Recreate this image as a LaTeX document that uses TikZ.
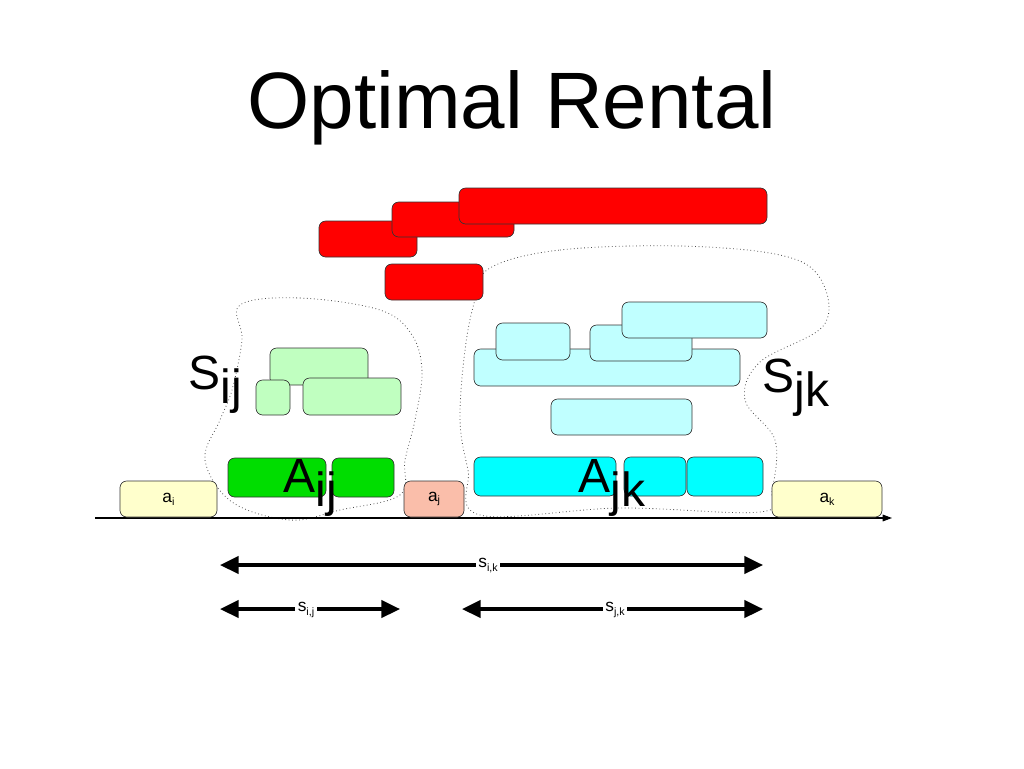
\documentclass[tikz,border=0pt]{standalone}
\usepackage{fontspec}
\setmainfont{Liberation Sans}
\usetikzlibrary{arrows.meta}
\definecolor{cyn}{RGB}{0,255,255}
\definecolor{lcyn}{RGB}{192,255,255}
\definecolor{lgrn}{RGB}{192,255,192}
\definecolor{grn}{RGB}{0,221,0}
\definecolor{ylw}{RGB}{255,255,204}
\definecolor{slm}{RGB}{250,190,170}
\begin{document}
\begin{tikzpicture}[x=0.75pt,y=-0.75pt,
 bx/.style={draw=black!80,rounded corners=5pt,line width=0.5pt},
 blob/.style={draw=black!70,dotted,line width=0.6pt},
 big/.style={font=\fontsize{36}{36}\selectfont,inner sep=0pt},
 sm/.style={font=\fontsize{13}{13}\selectfont,inner sep=0pt},
 span/.style={line width=2.6pt,{Triangle[length=14pt,width=13pt]}-{Triangle[length=14pt,width=13pt]}}]
\useasboundingbox (0,0) rectangle (1024,768);
\node (title) at (512,108) {\fontsize{60}{60}\selectfont Optimal Rental};
% blobs
\draw[blob] plot[smooth cycle,tension=0.6] coordinates{(240,305)(300,298)(380,310)(412,335)(422,372)(415,420)(405,460)(400,495)(340,510)(290,520)(232,502)(205,460)(220,420)(232,390)(242,340)};
\draw[blob] plot[smooth cycle,tension=0.6] coordinates{(490,268)(560,250)(680,246)(780,255)(820,278)(824,325)(760,362)(745,400)(775,440)(772,490)(760,512)(620,508)(480,515)(468,470)(460,420)(465,350)(475,300)};
% red
\foreach \a/\b/\c/\d in {319/221/417/257,392/202/514/237,459/188/767/224,385/264/483/300}
  \draw[bx,fill=red] (\a,\b) rectangle (\c,\d);
% light green
\foreach \a/\b/\c/\d in {270/348/368/385,256/380/290/415,303/378/401/415}
  \draw[bx,fill=lgrn] (\a,\b) rectangle (\c,\d);
\draw[bx,fill=grn] (228,458) rectangle (326,497);
\draw[bx,fill=grn] (332,458) rectangle (394,497);
% light cyan
\foreach \a/\b/\c/\d in {474/349/740/386,496/323/570/360,590/325/692/361,622/302/767/338,551/399/692/435}
  \draw[bx,fill=lcyn] (\a,\b) rectangle (\c,\d);
\foreach \a/\b/\c/\d in {474/457/616/496,624/457/686/496,687/457/763/496}
  \draw[bx,fill=cyn] (\a,\b) rectangle (\c,\d);
% axis
\coordinate (ax0) at (95,518); \coordinate (ax1) at (892,518);
\draw[line width=0.8pt,-{Triangle[length=7pt,width=5pt]}] (ax0) -- (ax1);
\node[bx,fill=ylw,minimum width=97*0.75pt,minimum height=36*0.75pt,sm] (ai) at (168.5,499) {a\raisebox{-2pt}{\footnotesize i}};
\node[bx,fill=ylw,minimum width=110*0.75pt,minimum height=36*0.75pt,sm] (ak) at (827,499) {a\raisebox{-2pt}{\footnotesize k}};
\node[bx,fill=slm,minimum width=60*0.75pt,minimum height=36*0.75pt,sm] (aj) at (434,499) {a\raisebox{-2pt}{\footnotesize j}};
% big labels
\node[big] (Sij) at (215,385) {S\raisebox{-0.3em}{ij}};
\node[big] (Sjk) at (796,388) {S\raisebox{-0.3em}{jk}};
\node[big] (Aij) at (310,488) {A\raisebox{-0.3em}{ij}};
\node[big] (Ajk) at (612,488) {A\raisebox{-0.3em}{jk}};
% spans
\coordinate (l1) at (220,565); \coordinate (r1) at (763,565);
\coordinate (l2) at (220,609); \coordinate (r2) at (400,609);
\coordinate (l3) at (462,609); \coordinate (r3) at (763,609);
\draw[span] (l1) -- (r1);
\draw[span] (l2) -- (r2);
\draw[span] (l3) -- (r3);
\node[sm,fill=white,inner sep=2pt] (sik) at (488,566) {s\raisebox{-3pt}{\footnotesize i,k}};
\node[sm,fill=white,inner sep=2pt] (sij) at (306,610) {s\raisebox{-3pt}{\footnotesize i,j}};
\node[sm,fill=white,inner sep=2pt] (sjk) at (615,610) {s\raisebox{-3pt}{\footnotesize j,k}};
\end{tikzpicture}
\end{document}
